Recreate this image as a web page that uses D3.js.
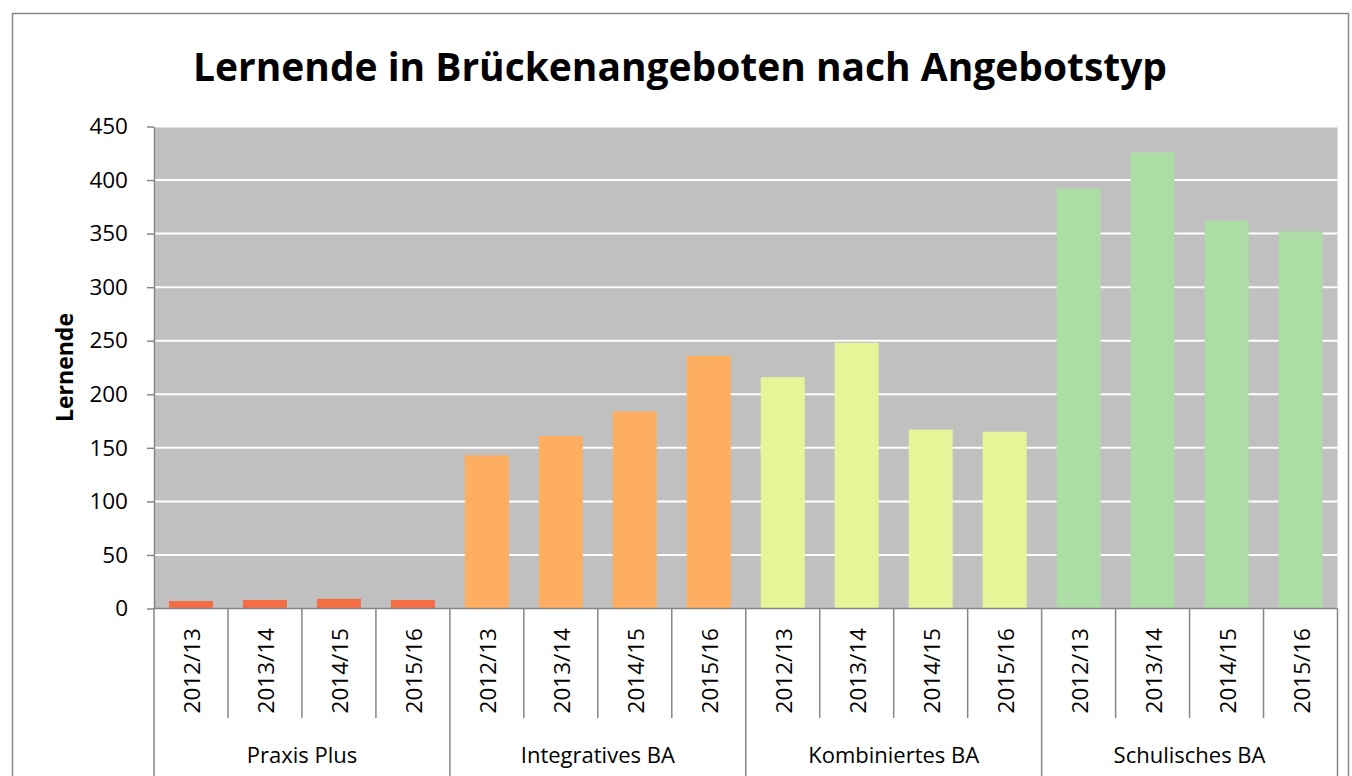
<!DOCTYPE html>
<html>
<head>
<meta charset="utf-8">
<script src="https://cdn.jsdelivr.net/npm/d3@7"></script>
<style>
  body { margin: 0; background: #fff; }
  text { font-family: "Open Sans", sans-serif; fill: #000; }
</style>
</head>
<body>
<div id="chart"></div>
<script>
const groups = ["Praxis Plus", "Integratives BA", "Kombiniertes BA", "Schulisches BA"];
const years = ["2012/13", "2013/14", "2014/15", "2015/16"];
const praxisPlus = [7, 8, 9, 8];
const integrativesBA = [143, 161, 184, 236];
const kombiniertesBA = [216, 248, 167, 165];
const schulischesBA = [392, 426, 362, 352];
const groupColors = ["#f46d43", "#fdae61", "#e6f598", "#abdda4"];
const yTicks = [0, 50, 100, 150, 200, 250, 300, 350, 400, 450];

function main() {
  let width = 1352, height = 776;
  let margin = ({top: 126.5, right: 15, bottom: 167.5, left: 154});
  let series = [praxisPlus, integrativesBA, kombiniertesBA, schulischesBA];
  let rows = [];
  groups.forEach((g, i) => {
    years.forEach((yr, j) => rows.push({group: g, year: yr, key: g + "|" + yr, value: series[i][j], gi: i}));
  });

  const svg = d3.select("#chart").append("svg")
    .attr("width", width)
    .attr("height", height);

  // outer frame
  svg.append("rect")
    .attr("x", 12.5).attr("y", 13.5)
    .attr("width", 1336).attr("height", 800)
    .attr("fill", "none").attr("stroke", "#868686").attr("stroke-width", 1.5);

  let x = d3.scaleBand()
    .domain(rows.map(d => d.key))
    .range([margin.left, 1337.5]);
  let y = d3.scaleLinear()
    .domain([0, 450])
    .range([height - margin.bottom, margin.top]);

  let color = d3.scaleOrdinal().domain(groups).range(groupColors);

  // plot background
  svg.append("rect")
    .attr("x", margin.left).attr("y", y(450))
    .attr("width", x.range()[1] - margin.left)
    .attr("height", y(0) - y(450))
    .attr("fill", "#c0c0c0");

  // gridlines
  svg.append("g")
    .selectAll("line")
    .data(yTicks.filter(d => d > 0))
    .join("line")
      .attr("x1", margin.left).attr("x2", x.range()[1])
      .attr("y1", d => y(d)).attr("y2", d => y(d))
      .attr("stroke", "#fff").attr("stroke-width", 2);

  // bars
  let barW = x.bandwidth() * 0.595;
  svg.append("g")
    .selectAll("rect")
    .data(rows)
    .join("rect")
      .attr("x", d => x(d.key) + (x.bandwidth() - barW) / 2)
      .attr("width", barW)
      .attr("y", d => y(d.value))
      .attr("height", d => y(0) - y(d.value))
      .attr("fill", d => color(d.group));

  // y axis
  let yAxis = g => g
    .attr("transform", `translate(${margin.left},0)`)
    .call(d3.axisLeft(y).tickValues(yTicks).tickSize(7).tickPadding(19).tickSizeOuter(0))
    .call(g => g.selectAll("line, path").attr("stroke", "#868686").attr("stroke-width", 1.5))
    .call(g => g.selectAll("text").attr("font-size", 22.5).attr("font-family", "Open Sans, sans-serif"));
  svg.append("g").call(yAxis);

  svg.append("text")
    .attr("transform", `translate(73,${(y(0) + y(450)) / 2}) rotate(-90)`)
    .attr("text-anchor", "middle")
    .attr("font-size", 23)
    .attr("font-weight", "bold")
    .text("Lernende");

  // x axis: baseline and separators
  let axisG = svg.append("g").attr("stroke", "#868686").attr("stroke-width", 1.5);
  axisG.append("line")
    .attr("x1", margin.left).attr("x2", x.range()[1])
    .attr("y1", y(0)).attr("y2", y(0));
  let bounds = d3.range(rows.length + 1);
  axisG.selectAll(".sep")
    .data(bounds)
    .join("line")
      .attr("class", "sep")
      .attr("x1", i => margin.left + i * x.step())
      .attr("x2", i => margin.left + i * x.step())
      .attr("y1", y(0))
      .attr("y2", i => i % years.length == 0 ? height : 718);

  // year labels
  svg.append("g")
    .selectAll("text")
    .data(rows)
    .join("text")
      .attr("transform", d => `translate(${x(d.key) + x.bandwidth() / 2 + 9},628) rotate(-90)`)
      .attr("text-anchor", "end")
      .attr("font-size", 22.5)
      .text(d => d.year);

  // group labels
  svg.append("g")
    .selectAll("text")
    .data(groups)
    .join("text")
      .attr("x", (d, i) => margin.left + (i * years.length + years.length / 2) * x.step())
      .attr("y", 763)
      .attr("text-anchor", "middle")
      .attr("font-size", 22)
      .text(d => d);

  // title
  svg.append("text")
    .attr("x", 680)
    .attr("y", 81)
    .attr("text-anchor", "middle")
    .attr("font-size", 40)
    .attr("font-weight", "bold")
    .attr("textLength", 974)
    .attr("lengthAdjust", "spacingAndGlyphs")
    .text("Lernende in Brückenangeboten nach Angebotstyp");
}

main();
</script>
</body>
</html>
